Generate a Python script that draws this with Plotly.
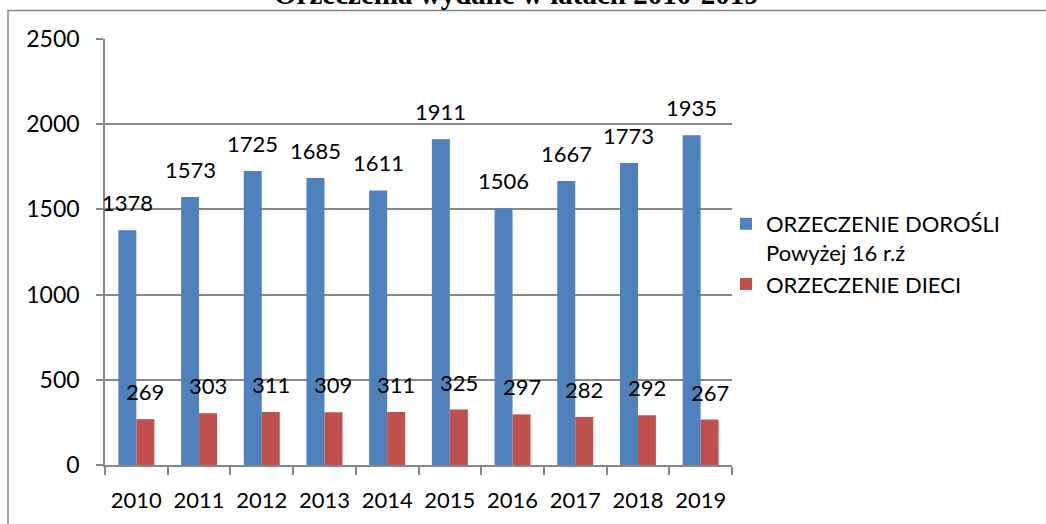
import plotly.graph_objects as go

years = ["2010", "2011", "2012", "2013", "2014", "2015", "2016", "2017", "2018", "2019"]
adults = [1378, 1573, 1725, 1685, 1611, 1911, 1506, 1667, 1773, 1935]
children = [269, 303, 311, 309, 311, 325, 297, 282, 292, 267]
name_adults = "ORZECZENIE DOROŚLI<br>Powyżej 16 r.ź"
name_children = "ORZECZENIE DIECI"
title_text = "Orzeczenia wydane w latach 2010-2019"

W, H = 1046, 524
ML, MR, MT, MB = 105, 314, 39, 59
plot_w = W - ML - MR
plot_h = H - MT - MB
BARGAP = 0.426
FONT = "Lato"
GRID = "#888888"
BLUE = "#4F81BD"
RED = "#C0504D"

fig = go.Figure()
fig.add_trace(go.Bar(x=years, y=adults, name=name_adults, marker=dict(color=BLUE, line=dict(width=0))))
fig.add_trace(go.Bar(x=years, y=children, name=name_children, marker=dict(color=RED, line=dict(width=0))))

bar_px = plot_w / len(years) * (1 - BARGAP) / 2
annotations = []
for series, shift in ((adults, -bar_px / 2), (children, bar_px / 2)):
    for i, v in enumerate(series):
        annotations.append(dict(x=i, y=v, xref="x", yref="y", text=str(v), showarrow=False,
                                xanchor="center", yanchor="bottom", xshift=shift, yshift=12,
                                font=dict(family=FONT, size=22, color="black")))

annotations.append(dict(x=(516 - ML) / plot_w, y=(H - MB - 12) / plot_h, xref="paper", yref="paper",
                        text="<b>" + title_text + "</b>", showarrow=False, xanchor="center", yanchor="bottom",
                        font=dict(family="Liberation Serif", size=29, color="black")))

frame = dict(type="rect", xref="paper", yref="paper",
             x0=(8 - ML) / plot_w, x1=(W + 10 - ML) / plot_w,
             y0=(H - MB - (H + 10)) / plot_h, y1=(H - MB - 10.5) / plot_h,
             line=dict(color=GRID, width=1.5), fillcolor="rgba(0,0,0,0)", layer="below")

fig.update_layout(
    width=W, height=H,
    margin=dict(l=ML, r=MR, t=MT, b=MB, pad=0, autoexpand=False),
    paper_bgcolor="white", plot_bgcolor="white",
    barmode="group", bargap=BARGAP, bargroupgap=0,
    font=dict(family=FONT, size=22, color="black"),
    showlegend=True,
    legend=dict(x=(726 - ML) / plot_w, y=(H - MB - 203) / plot_h, xanchor="left", yanchor="top",
                font=dict(family=FONT, size=22, color="black"), valign="top",
                bgcolor="rgba(0,0,0,0)", tracegroupgap=0),
    annotations=annotations,
    shapes=[frame],
    xaxis=dict(type="category", range=[-0.5, len(years) - 0.5], showgrid=False, showline=True,
               linecolor=GRID, linewidth=1.5, automargin=False, tickangle=0,
               ticks="outside", tickson="boundaries", ticklen=8, tickcolor=GRID, tickwidth=1.5,
               ticklabelstandoff=15, tickfont=dict(family=FONT, size=22), zeroline=False),
    yaxis=dict(range=[0, 2500], dtick=500, tick0=0, showgrid=True, gridcolor=GRID, gridwidth=1.5,
               showline=True, linecolor=GRID, linewidth=1.5, ticks="outside", ticklen=7, automargin=False,
               tickcolor=GRID, tickwidth=1.5, ticklabelstandoff=12, tickfont=dict(family=FONT, size=23),
               zeroline=False),
)

fig.write_html("out.html", config={"displayModeBar": False},
               post_script="document.body.style.margin='0';document.documentElement.style.overflow='hidden';document.body.style.overflow='hidden';")
